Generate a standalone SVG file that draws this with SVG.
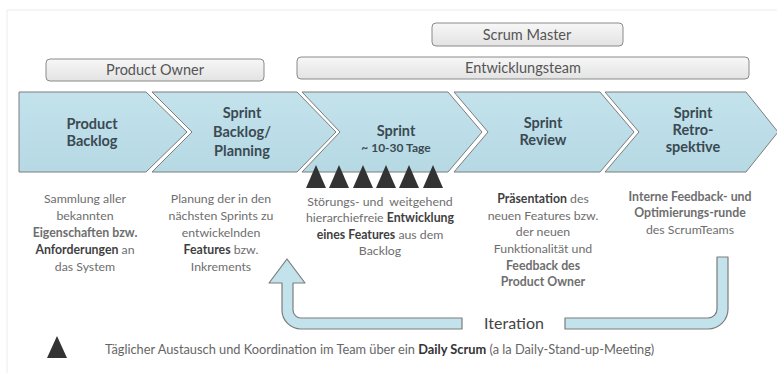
<svg xmlns="http://www.w3.org/2000/svg" width="777" height="373" viewBox="0 0 777 373">
<defs>
<linearGradient id="boxg" x1="0" y1="0" x2="0" y2="1">
<stop offset="0" stop-color="#f7f7f7"/>
<stop offset="1" stop-color="#e3e3e3"/>
</linearGradient>
<linearGradient id="chevg" x1="0" y1="0" x2="0" y2="1">
<stop offset="0" stop-color="#c3e2ec"/>
<stop offset="1" stop-color="#b6d9e4"/>
</linearGradient>
</defs>
<style>
.frame{fill:none;stroke:#ececec;stroke-width:1}
.role rect{fill:url(#boxg);stroke:#8a8a8a;stroke-width:1}
.role text{font-family:Lato,"Liberation Sans",sans-serif;font-size:14.5px;fill:#555;text-anchor:middle}
.chev polygon{fill:url(#chevg);stroke:#7c7c7c;stroke-width:1}
.chev text{font-family:Lato,"Liberation Sans",sans-serif;font-size:14.5px;font-weight:bold;fill:#3b4a52;text-anchor:middle}
.chev .small{font-size:12px}
.desc text{font-family:Lato,"Liberation Sans",sans-serif;font-size:12.3px;fill:#6e6e6e;text-anchor:middle}
.b{font-weight:bold;fill:#3f3f3f}
.tri{fill:#333}
.pipe{fill:#c2e2ec;stroke:#7c7c7c;stroke-width:1.2;stroke-linejoin:round}
.iter{font-family:Lato,"Liberation Sans",sans-serif;font-size:16px;fill:#444;text-anchor:middle}
.legend{font-family:Lato,"Liberation Sans",sans-serif;font-size:12.8px;fill:#666}
</style>
<rect width="777" height="373" fill="#fff"/>
<path class="frame" d="M7,373 V10 H777"/>

<g id="role-product-owner" class="role">
<rect x="46" y="59" width="218" height="22" rx="4"/>
<text x="155" y="75">Product Owner</text>
</g>
<g id="role-scrum-master" class="role">
<rect x="432" y="23" width="191" height="23" rx="4"/>
<text x="527" y="39.5">Scrum Master</text>
</g>
<g id="role-entwicklungsteam" class="role">
<rect x="297" y="57" width="452" height="22" rx="4"/>
<text x="523" y="73">Entwicklungsteam</text>
</g>

<g id="phase-product-backlog" class="chev">
<polygon points="19,92 146,92 187,132 146,172 19,172"/>
<text x="92" y="129">Product</text>
<text x="92" y="146">Backlog</text>
</g>
<g id="phase-sprint-backlog" class="chev">
<polygon points="152,92 297,92 336,132 297,172 152,172 192,132"/>
<text x="242" y="118">Sprint</text>
<text x="242" y="137">Backlog/</text>
<text x="242" y="156">Planning</text>
</g>
<g id="phase-sprint" class="chev">
<polygon points="302,92 448,92 482,132 448,172 302,172 340,132"/>
<text x="396" y="136">Sprint</text>
<text class="small" x="396" y="152">~ 10-30 Tage</text>
</g>
<g id="phase-sprint-review" class="chev">
<polygon points="454,92 600,92 634,132 600,172 454,172 488,132"/>
<text x="543" y="128">Sprint</text>
<text x="543" y="145">Review</text>
</g>
<g id="phase-sprint-retro" class="chev">
<polygon points="605,92 746,92 778,132 746,172 605,172 639,132"/>
<text x="693" y="118">Sprint</text>
<text x="693" y="135">Retro-</text>
<text x="693" y="152">spektive</text>
</g>

<g id="daily-scrums">
<polygon class="tri" points="316,165 306,188 326,188"/>
<polygon class="tri" points="339,165 329,188 349,188"/>
<polygon class="tri" points="363,165 353,188 373,188"/>
<polygon class="tri" points="386,165 376,188 396,188"/>
<polygon class="tri" points="409,165 399,188 419,188"/>
<polygon class="tri" points="433,165 423,188 443,188"/>
</g>

<g id="desc-product-backlog" class="desc">
<text x="85" y="203">Sammlung aller</text>
<text x="85" y="220">bekannten</text>
<text x="85" y="237" class="b">Eigenschaften bzw.</text>
<text x="85" y="254"><tspan class="b">Anforderungen</tspan> an</text>
<text x="85" y="271">das System</text>
</g>
<g id="desc-sprint-backlog" class="desc">
<text x="221" y="203">Planung der in den</text>
<text x="221" y="220">nächsten Sprints zu</text>
<text x="221" y="237">entwickelnden</text>
<text x="221" y="254"><tspan class="b">Features</tspan> bzw.</text>
<text x="221" y="271">Inkrements</text>
</g>
<g id="desc-sprint" class="desc">
<text x="380" y="206" xml:space="preserve">Störungs- und  weitgehend</text>
<text x="380" y="222">hierarchiefreie <tspan class="b">Entwicklung</tspan></text>
<text x="380" y="239"><tspan class="b">eines Features</tspan> aus dem</text>
<text x="380" y="255">Backlog</text>
</g>
<g id="desc-sprint-review" class="desc">
<text x="543" y="203"><tspan class="b">Präsentation</tspan> des</text>
<text x="543" y="220">neuen Features bzw.</text>
<text x="543" y="236">der neuen</text>
<text x="543" y="253">Funktionalität und</text>
<text x="543" y="270" class="b">Feedback des</text>
<text x="543" y="286" class="b">Product Owner</text>
</g>
<g id="desc-sprint-retro" class="desc">
<text x="690" y="201" class="b">Interne Feedback- und</text>
<text x="690" y="217" class="b">Optimierungs-runde</text>
<text x="690" y="234">des ScrumTeams</text>
</g>

<g id="connectors">
<path class="pipe" d="M462,318 H301 A8,8 0 0 1 293,310 V283 H305 L287,259 L269,283 H282 V310 A19,19 0 0 0 301,329 H462 Z"/>
<path class="pipe" d="M565,318 H708 A9,9 0 0 0 717,309 V257 H728 V309 A20,20 0 0 1 708,329 H565 Z"/>
</g>
<g id="label-iteration">
<text class="iter" x="514" y="329">Iteration</text>
</g>

<g id="legend">
<polygon class="tri" points="57,336 47,358 67,358"/>
<text class="legend" x="105" y="354">Täglicher Austausch und Koordination im Team über ein <tspan font-weight="bold" fill="#333">Daily Scrum</tspan> (a la Daily-Stand-up-Meeting)</text>
</g>
</svg>
